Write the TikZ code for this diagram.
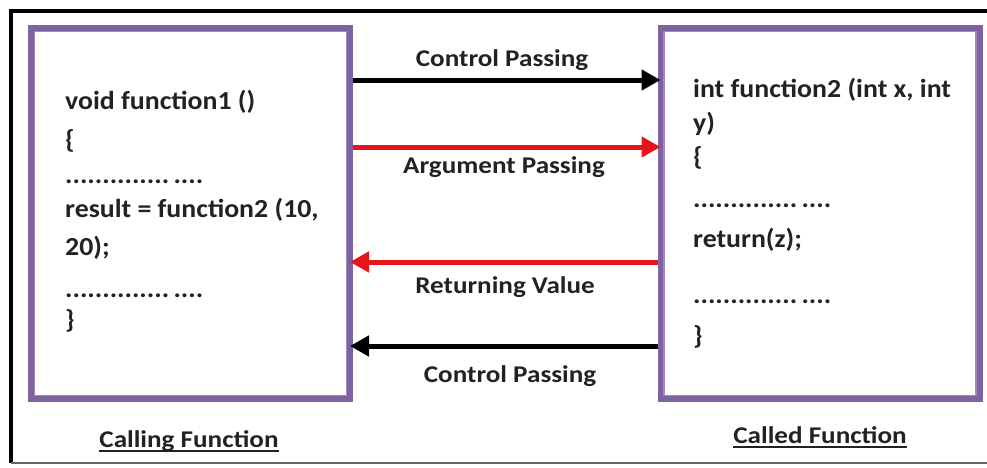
\documentclass[tikz,border=0pt]{standalone}
\usepackage{fontspec}
\setmainfont{Carlito}
\newfontfamily\codefont[FakeStretch=1.07]{Carlito}
\newfontfamily\labelfont[FakeStretch=1.13]{Carlito}
\usetikzlibrary{arrows.meta}

\definecolor{framepurple}{HTML}{7F63A1}
\definecolor{framelight}{HTML}{9E8BBE}
\definecolor{flowred}{HTML}{E8141C}
\definecolor{inktext}{HTML}{222222}

\tikzset{
  fnbox/.style={draw=framepurple, line width=6pt, fill=white,
                minimum width=319pt, minimum height=371pt, inner sep=0pt},
  innerline/.style={draw=framelight, line width=1.6pt},
  code/.style={font=\codefont\bfseries\fontsize{26}{30}\selectfont, text=inktext,
               inner sep=0pt, anchor=base west},
  flowlabel/.style={font=\labelfont\bfseries\fontsize{24}{28}\selectfont, text=inktext,
                    inner sep=0pt, anchor=base},
  caption/.style={font=\labelfont\bfseries\fontsize{24}{28}\selectfont, text=inktext,
                  inner sep=0pt, anchor=base},
  flow/.style={line width=5pt,
               -{Triangle[length=19pt,width=20pt]}, shorten >=-3pt},
}

\begin{document}
\begin{tikzpicture}[x=1pt,y=-1pt]
  \useasboundingbox (0,0) rectangle (987,467);
  \fill[white] (0,0) rectangle (987,467);

  % outer frame of the sheet
  \draw[line width=4pt, line join=miter] (987,11) -- (11,11) -- (11,463);
  \draw[line width=1.5pt, black!60] (11,463) -- (987,463);

  % the two function boxes
  \node[fnbox] (caller) at (190.5,213.5) {};
  \node[fnbox] (callee) at (820,213.5) {};
  \draw[innerline] ([xshift=6.5pt,yshift=-6.5pt]caller.north west)
                   rectangle ([xshift=-6.5pt,yshift=6.5pt]caller.south east);
  \draw[innerline] ([xshift=6.5pt,yshift=-6.5pt]callee.north west)
                   rectangle ([xshift=-6.5pt,yshift=6.5pt]callee.south east);

  % code of the calling function
  \node[code] (l1) at (65,109) {void function1 ()};
  \node[code] (l2) at (65,148) {\{};
  \node[code] (l3) at (65,183) {..............\,....};
  \node[code] (l4) at (65,217) {result = function2 (10,};
  \node[code] (l5) at (65,255) {20);};
  \node[code] (l6) at (65,297) {..............\,....};
  \node[code] (l7) at (65,328) {\}};

  % code of the called function
  \node[code] (r1) at (693,97)  {int function2 (int x, int};
  \node[code] (r2) at (693,131) {y)};
  \node[code] (r3) at (693,165) {\{};
  \node[code] (r4) at (693,207) {..............\,....};
  \node[code] (r5) at (693,247) {return(z);};
  \node[code] (r6) at (693,303) {..............\,....};
  \node[code] (r7) at (693,344) {\}};

  % levels of the four transfers
  \coordinate (lvA) at (505,80);
  \coordinate (lvB) at (505,147);
  \coordinate (lvC) at (505,262);
  \coordinate (lvD) at (505,346);

  \draw[flow] (caller.east |- lvA) -- (callee.west |- lvA);
  \draw[flow, flowred] (caller.east |- lvB) -- (callee.west |- lvB);
  \draw[flow, flowred] (callee.west |- lvC) -- (caller.east |- lvC);
  \draw[flow] (callee.west |- lvD) -- (caller.east |- lvD);

  \node[flowlabel] (tA) at (502,66)  {Control Passing};
  \node[flowlabel] (tB) at (504,173) {Argument Passing};
  \node[flowlabel] (tC) at (505,293) {Returning Value};
  \node[flowlabel] (tD) at (510,382) {Control Passing};

  % captions under the boxes
  \node[caption] (capL) at (189,447) {Calling Function};
  \node[caption] (capR) at (820,443) {Called Function};
  \draw[line width=1.6pt, inktext] ([yshift=-4pt]capL.base west) -- ([yshift=-4pt]capL.base east);
  \draw[line width=1.6pt, inktext] ([yshift=-4pt]capR.base west) -- ([yshift=-4pt]capR.base east);
\end{tikzpicture}
\end{document}
